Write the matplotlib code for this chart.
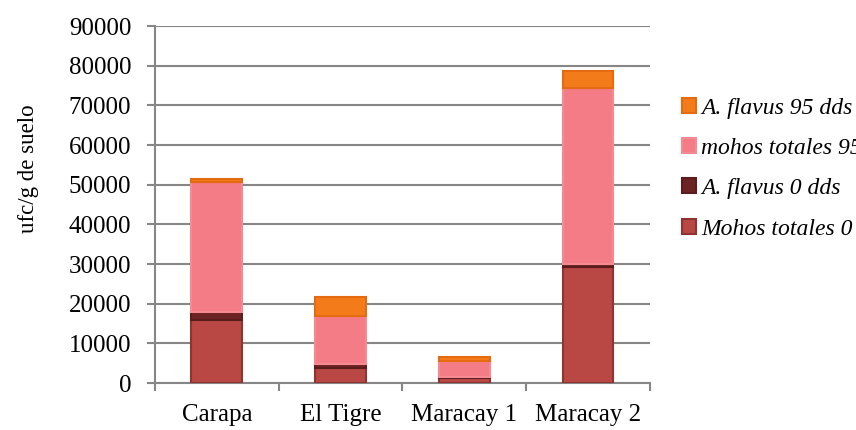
import numpy as np
import matplotlib.pyplot as plt

plt.rcParams['font.family'] = ['Liberation Serif', 'DejaVu Serif']

sites = ['Carapa', 'El Tigre', 'Maracay 1', 'Maracay 2']
mohos_0 = [15900, 3800, 1300, 29300]
flavus_0 = [1900, 1000, 250, 600]
mohos_95 = [33000, 12100, 4100, 44400]
flavus_95 = [600, 4850, 850, 4400]

series = [
    ('Mohos totales 0 dds', mohos_0, '#B94744', '#8E3431'),
    ('A. flavus 0 dds', flavus_0, '#6B2323', '#5A1C1C'),
    ('mohos totales 95 dds', mohos_95, '#F47C86', '#F58A93'),
    ('A. flavus 95 dds', flavus_95, '#F37B1A', '#E56B10'),
]

fig = plt.figure(figsize=(8.56, 4.30), dpi=100)
ax = fig.add_axes([0.181, 0.1093, 0.578, 0.8302])

x = np.arange(len(sites))
bottom = np.zeros(len(sites))
handles = []
for name, vals, col, edge in series:
    b = ax.bar(x, vals, 0.41, bottom=bottom, color=col, edgecolor=edge,
               linewidth=1.5, label=name, zorder=3)
    handles.append(b)
    bottom += np.array(vals)

grey = '#868686'
ax.set_xlim(-0.5, 3.5)
ax.set_ylim(0, 90000)
ax.set_yticks(np.arange(0, 90001, 10000))
ax.yaxis.grid(True, color=grey, linewidth=1.5, zorder=0)
ax.set_axisbelow(True)
for s in ['top', 'right']:
    ax.spines[s].set_visible(False)
for s in ['left', 'bottom']:
    ax.spines[s].set_color(grey)
    ax.spines[s].set_linewidth(1.5)

ax.set_xticks(x)
ax.set_xticklabels(sites, fontsize=18)
ax.tick_params(axis='x', which='major', length=0, pad=15)
ax.set_xticks([-0.5, 0.5, 1.5, 2.5, 3.5], minor=True)
ax.tick_params(axis='x', which='minor', length=6, width=1.5, color=grey, direction='out')
ax.tick_params(axis='y', length=6, width=1.5, color=grey, direction='out',
               labelsize=18, pad=11)
ax.set_ylabel('ufc/g de suelo', fontsize=16.5)
ax.yaxis.set_label_coords(-0.234, 0.60)

leg = ax.legend(handles[::-1], [h.get_label() for h in handles[::-1]],
                loc='upper left', bbox_to_anchor=(0.786, 0.795),
                bbox_transform=fig.transFigure, frameon=False,
                prop={'style': 'italic', 'size': 17},
                handlelength=0.6, handleheight=0.6, handletextpad=0.2,
                labelspacing=0.82, borderaxespad=0)

fig.savefig('out.png', dpi=100)
